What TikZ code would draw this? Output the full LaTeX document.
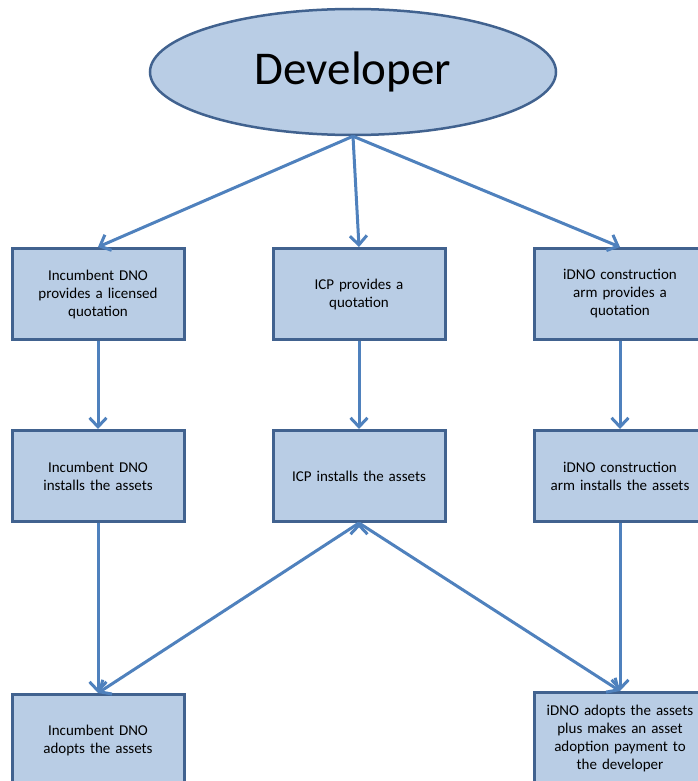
\documentclass[tikz,border=0pt]{standalone}
\usepackage{fontspec}
\setmainfont{Carlito}
\usetikzlibrary{positioning,shapes.geometric,arrows.meta}

\definecolor{boxfill}{HTML}{B9CDE5}
\definecolor{boxline}{HTML}{41628F}
\definecolor{arrowline}{HTML}{4F81BD}

\begin{document}
\begin{tikzpicture}[x=1pt, y=1pt, node distance=86pt,
	box/.style={rectangle, draw=boxline, line width=3pt, fill=boxfill,
		minimum width=172pt, minimum height=91pt, text width=160pt,
		align=center, font=\fontsize{15}{18}\selectfont},
	>={Straight Barb[length=9pt,width=17pt]}]
	\useasboundingbox (0,0) rectangle (698,-781);

	\node[ellipse, draw=boxline, line width=2.5pt, fill=boxfill,
		minimum width=406pt, minimum height=126pt,
		font=\fontsize{47}{50}\selectfont] (dev) at (353,-72) {Developer};

	\node[box] (q1) at (98,-294) {Incumbent DNO\\ provides a licensed\\ quotation};
	\node[box,right=of q1] (q2) {ICP provides a\\ quotation};
	\node[box,right=of q2] (q3) {iDNO construction\\ arm provides a\\ quotation};

	\node[box,below=88pt of q1] (i1) {Incumbent DNO\\ installs the assets};
	\node[box,below=88pt of q2] (i2) {ICP installs the assets};
	\node[box,below=88pt of q3] (i3) {iDNO construction\\ arm installs the assets};

	\node[box,below=170pt of i1] (a1) {Incumbent DNO\\ adopts the assets};
	\node[box,below=168pt of i3] (a3) {iDNO adopts the assets\\ plus makes an asset\\ adoption payment to\\ the developer};

	\path[->, draw=arrowline, line width=3pt]
		(dev.south) edge (q1.north)
		(dev.south) edge (q2.north)
		(dev.south) edge (q3.north)
		(q1) edge (i1)
		(q2) edge (i2)
		(q3) edge (i3)
		(i1) edge (a1)
		(i2.south) edge (a1.north)
		(i2.south) edge (a3.north)
		(i3) edge (a3);
\end{tikzpicture}
\end{document}
